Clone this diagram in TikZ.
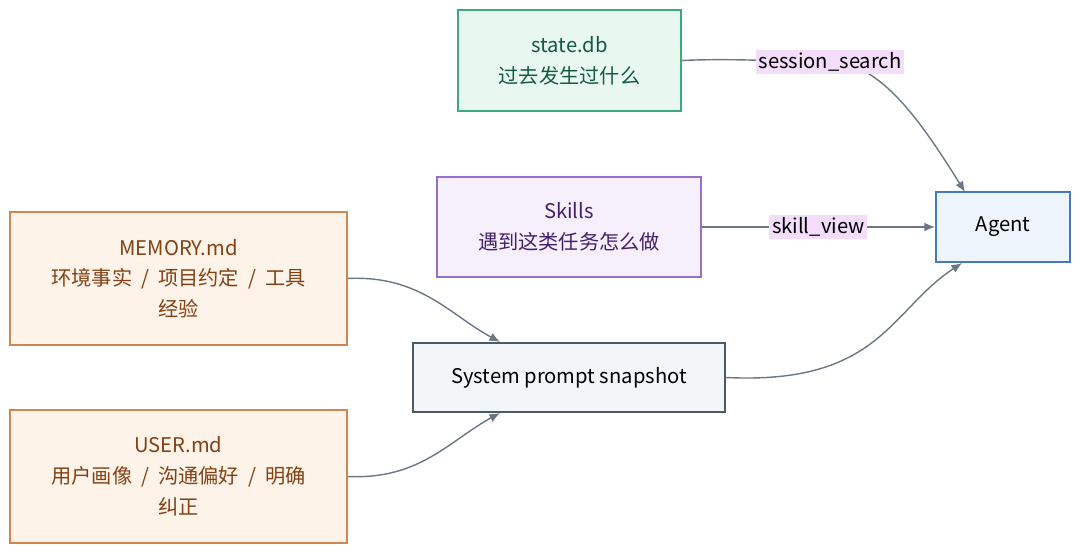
\documentclass[tikz,border=0pt]{standalone}
\usepackage{fontspec}
\setmainfont{Noto Sans CJK SC}
\begin{document}
\begin{tikzpicture}[x=0.02cm,y=-0.02cm,
  box/.style={draw,line width=0.8pt,align=center,font=\fontsize{11.5}{17.5}\selectfont,inner sep=0pt},
  edge/.style={draw=edgec,line width=0.8pt,-{Latex[length=6pt,width=5pt]}},
  lbl/.style={fill=lblc,inner sep=1.5pt,font=\fontsize{11.5}{13}\selectfont,text=black}]
\usetikzlibrary{arrows.meta}
\definecolor{edgec}{HTML}{6B7785}
\definecolor{lblc}{HTML}{F3DDFB}
\useasboundingbox (0,0) rectangle (1080,553);
\node[box,draw={rgb,255:red,60;green,170;blue,125},fill={rgb,255:red,232;green,248;blue,241},text={rgb,255:red,20;green,90;blue,60},minimum width=223*0.02cm,minimum height=101*0.02cm] (db) at (569.5,60.5) {state.db\\过去发生过什么};
\node[box,draw={rgb,255:red,150;green,110;blue,210},fill={rgb,255:red,245;green,240;blue,252},text={rgb,255:red,70;green,30;blue,110},minimum width=264*0.02cm,minimum height=100*0.02cm] (sk) at (569,227) {Skills\\遇到这类任务怎么做};
\node[box,line width=1.2pt,draw={rgb,255:red,70;green,120;blue,190},fill={rgb,255:red,238;green,244;blue,251},text=black,minimum width=134*0.02cm,minimum height=70*0.02cm] (ag) at (1003,227) {Agent};
\node[box,draw={rgb,255:red,205;green,135;blue,80},fill={rgb,255:red,253;green,243;blue,232},text={rgb,255:red,130;green,65;blue,20},minimum width=337*0.02cm,minimum height=133*0.02cm] (mem) at (178.5,278.5) {MEMORY.md\\环境事实 \ / \ 项目约定 \ / \ 工具\\经验};
\node[box,draw={rgb,255:red,205;green,135;blue,80},fill={rgb,255:red,253;green,243;blue,232},text={rgb,255:red,130;green,65;blue,20},minimum width=337*0.02cm,minimum height=133*0.02cm] (usr) at (178.5,476.5) {USER.md\\用户画像 \ / \ 沟通偏好 \ / \ 明确\\纠正};
\node[box,line width=1.2pt,draw={rgb,255:red,75;green,88;blue,102},fill={rgb,255:red,243;green,246;blue,249},text=black,minimum width=312*0.02cm,minimum height=69*0.02cm] (sys) at (569,377.5) {System prompt snapshot};
\coordinate (lb) at (830,62);
\draw[edge] (db.east) .. controls (740,58) and (780,62) .. (lb) .. controls (880,62) and (920,120) .. (965,192);
\node[lbl] (lbn) at (lb) {session\_search};
\draw[edge] (sk.east) -- (ag.west) node[lbl,midway] {skill\_view};
\draw[edge] (mem.east) .. controls (420,275) and (450,315) .. (sys.north west -| 500,343);
\draw[edge] (usr.east) .. controls (420,480) and (450,440) .. (sys.south west -| 500,412);
\draw[edge] (sys.east) .. controls (880,385) and (890,310) .. (ag.south west -| 962,262);
\end{tikzpicture}
\end{document}
